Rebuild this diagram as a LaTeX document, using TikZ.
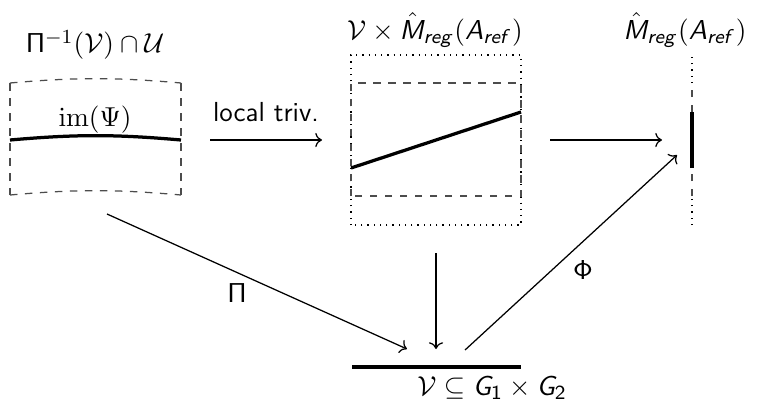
\documentclass[tikz,border=0pt]{standalone}
\usepackage{amsmath,amssymb}
\usepackage{tikz}
\usetikzlibrary{arrows.meta,positioning,calc}
\renewcommand{\familydefault}{\sfdefault}
\DeclareMathAlphabet{\mathsfit}{OT1}{cmss}{m}{sl}
\newcommand{\Mreg}{\hat{\mathsfit{M}}_{\mathsfit{reg}}(\mathsfit{A}_{\mathsfit{ref}})}
\tikzset{
    % Fibre boxes
    dashbox/.style={
        draw=black!70,
        dashed,
        line width=0.5pt
    },
    dotbox/.style={
        draw=black,
        dotted,
        line width=0.5pt
    },
    % Sections and base
    sectionline/.style={
        draw=black,
        line width=1.3pt
    },
    % Maps
    maparrow/.style={
        ->,
        line width=0.5pt,
        draw=black
    },
    % Labels
    titlelabel/.style={
        font=\fontsize{11}{13}\selectfont,
        inner sep=1pt
    },
    maplabel/.style={
        font=\fontsize{11}{13}\selectfont,
        inner sep=1pt
    }
}

\begin{document}
\begin{tikzpicture}[x=0.4pt, y=0.4pt]
        \useasboundingbox (0,0) rectangle (757,402);

        % Left piece: preimage
        \draw[dashbox] (10,319) to[bend left=5] (181,319);
        \draw[dashbox] (10,207) to[bend left=5] (181,207);
        \draw[dashbox] (10,319) -- (10,207);
        \draw[dashbox] (181,319) -- (181,207);
        \draw[sectionline] (10,262) to[bend left=5] (181,262);
        \node[titlelabel] (pre) at (95,357) {$\mathsf{\Pi}^{-1}(\mathcal{V})\cap\mathcal{U}$};
        \node[maplabel] (img) at (95,282) {$\mathrm{im}(\Psi)$};

        % Middle piece: trivialisation
        \draw[dotbox] (351,177) rectangle (521,347);
        \draw[dashbox] (351,206) rectangle (521,319);
        \draw[sectionline] (351,234) -- (521,290);
        \node[titlelabel] (triv) at (435,372) {$\mathcal{V}\times\Mreg$};

        % Right piece: moduli
        \draw[dotbox] (692,177) -- (692,206);
        \draw[dashbox] (692,206) -- (692,234);
        \draw[sectionline] (692,234) -- (692,290);
        \draw[dashbox] (692,290) -- (692,319);
        \draw[dotbox] (692,319) -- (692,347);
        \node[titlelabel] (mod) at (685,372) {$\Mreg$};

        % Base
        \draw[sectionline] (352,35) -- (521,35);
        \node[titlelabel] (base) at (492,14) {$\mathcal{V}\subseteq \mathsfit{G}_{\mathsf{1}}\times \mathsfit{G}_{\mathsf{2}}$};

        % Arrow end points
        \coordinate (ltA) at (210,262);
        \coordinate (ltB) at (322,262);
        \coordinate (prA) at (550,262);
        \coordinate (prB) at (662,262);
        \coordinate (piA) at (107,188);
        \coordinate (piB) at (407,53);
        \coordinate (vdA) at (436,149);
        \coordinate (vdB) at (436,53);
        \coordinate (phA) at (465,52);
        \coordinate (phB) at (677,247);

        % Arrows
        \draw[maparrow] (ltA) -- (ltB);
        \draw[maparrow] (prA) -- (prB);
        \draw[maparrow] (piA) -- (piB);
        \draw[maparrow] (vdA) -- (vdB);
        \draw[maparrow] (phA) -- (phB);

        % Map labels
        \node[maplabel] (ltlab) at (266,290) {local triv.};
        \node[maplabel] (pilab) at (237,109) {$\mathsf{\Pi}$};
        \node[maplabel] (phlab) at (583,132) {$\mathsf{\Phi}$};
    \end{tikzpicture}
\end{document}
